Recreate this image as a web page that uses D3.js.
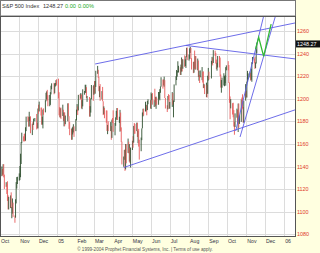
<!DOCTYPE html>
<html><head><meta charset="utf-8">
<script src="https://cdn.jsdelivr.net/npm/d3@7"></script>
<style>body{margin:0;background:#ffffe0;}svg{display:block;font-family:"Liberation Sans",Arial,sans-serif;}</style>
</head><body><svg id="c" width="320" height="253"></svg>
<script>
// ---------- DATA ----------
const title = "S&P 500 Index";
const lastValue = "1248.27";
const change = "0.00";
const changePct = "0.00%";
const priceTicks = [1260,1240,1220,1200,1180,1160,1140,1120,1100,1080];
const monthTicks = ["2004-10-01","2004-11-01","2004-12-01","2005-01-01","2005-02-01","2005-03-01","2005-04-01","2005-05-01","2005-06-01","2005-07-01","2005-08-01","2005-09-01","2005-10-01","2005-11-01","2005-12-01","2006-01-01"];
const monthLabels = ["Oct","Nov","Dec","05","Feb","Mar","Apr","May","Jun","Jul","Aug","Sep","Oct","Nov","Dec","06"];
const prevClose0 = 1114.58;
const dates = [
"2004-10-01","2004-10-04","2004-10-05","2004-10-06","2004-10-07","2004-10-08","2004-10-11","2004-10-12","2004-10-13","2004-10-14","2004-10-15","2004-10-18","2004-10-19","2004-10-20","2004-10-21","2004-10-22","2004-10-25","2004-10-26","2004-10-27","2004-10-28","2004-10-29",
"2004-11-01","2004-11-02","2004-11-03","2004-11-04","2004-11-05","2004-11-08","2004-11-09","2004-11-10","2004-11-11","2004-11-12","2004-11-15","2004-11-16","2004-11-17","2004-11-18","2004-11-19","2004-11-22","2004-11-23","2004-11-24","2004-11-26","2004-11-29","2004-11-30",
"2004-12-01","2004-12-02","2004-12-03","2004-12-06","2004-12-07","2004-12-08","2004-12-09","2004-12-10","2004-12-13","2004-12-14","2004-12-15","2004-12-16","2004-12-17","2004-12-20","2004-12-21","2004-12-22","2004-12-23","2004-12-27","2004-12-28","2004-12-29","2004-12-30","2004-12-31",
"2005-01-03","2005-01-04","2005-01-05","2005-01-06","2005-01-07","2005-01-10","2005-01-11","2005-01-12","2005-01-13","2005-01-14","2005-01-18","2005-01-19","2005-01-20","2005-01-21","2005-01-24","2005-01-25","2005-01-26","2005-01-27","2005-01-28","2005-01-31",
"2005-02-01","2005-02-02","2005-02-03","2005-02-04","2005-02-07","2005-02-08","2005-02-09","2005-02-10","2005-02-11","2005-02-14","2005-02-15","2005-02-16","2005-02-17","2005-02-18","2005-02-22","2005-02-23","2005-02-24","2005-02-25","2005-02-28",
"2005-03-01","2005-03-02","2005-03-03","2005-03-04","2005-03-07","2005-03-08","2005-03-09","2005-03-10","2005-03-11","2005-03-14","2005-03-15","2005-03-16","2005-03-17","2005-03-18","2005-03-21","2005-03-22","2005-03-23","2005-03-24","2005-03-28","2005-03-29","2005-03-30","2005-03-31",
"2005-04-01","2005-04-04","2005-04-05","2005-04-06","2005-04-07","2005-04-08","2005-04-11","2005-04-12","2005-04-13","2005-04-14","2005-04-15","2005-04-18","2005-04-19","2005-04-20","2005-04-21","2005-04-22","2005-04-25","2005-04-26","2005-04-27","2005-04-28","2005-04-29",
"2005-05-02","2005-05-03","2005-05-04","2005-05-05","2005-05-06","2005-05-09","2005-05-10","2005-05-11","2005-05-12","2005-05-13","2005-05-16","2005-05-17","2005-05-18","2005-05-19","2005-05-20","2005-05-23","2005-05-24","2005-05-25","2005-05-26","2005-05-27","2005-05-31",
"2005-06-01","2005-06-02","2005-06-03","2005-06-06","2005-06-07","2005-06-08","2005-06-09","2005-06-10","2005-06-13","2005-06-14","2005-06-15","2005-06-16","2005-06-17","2005-06-20","2005-06-21","2005-06-22","2005-06-23","2005-06-24","2005-06-27","2005-06-28","2005-06-29","2005-06-30",
"2005-07-01","2005-07-05","2005-07-06","2005-07-07","2005-07-08","2005-07-11","2005-07-12","2005-07-13","2005-07-14","2005-07-15","2005-07-18","2005-07-19","2005-07-20","2005-07-21","2005-07-22","2005-07-25","2005-07-26","2005-07-27","2005-07-28","2005-07-29",
"2005-08-01","2005-08-02","2005-08-03","2005-08-04","2005-08-05","2005-08-08","2005-08-09","2005-08-10","2005-08-11","2005-08-12","2005-08-15","2005-08-16","2005-08-17","2005-08-18","2005-08-19","2005-08-22","2005-08-23","2005-08-24","2005-08-25","2005-08-26","2005-08-29","2005-08-30","2005-08-31",
"2005-09-01","2005-09-02","2005-09-06","2005-09-07","2005-09-08","2005-09-09","2005-09-12","2005-09-13","2005-09-14","2005-09-15","2005-09-16","2005-09-19","2005-09-20","2005-09-21","2005-09-22","2005-09-23","2005-09-26","2005-09-27","2005-09-28","2005-09-29","2005-09-30",
"2005-10-03","2005-10-04","2005-10-05","2005-10-06","2005-10-07","2005-10-10","2005-10-11","2005-10-12","2005-10-13","2005-10-14","2005-10-17","2005-10-18","2005-10-19","2005-10-20","2005-10-21","2005-10-24","2005-10-25","2005-10-26","2005-10-27","2005-10-28","2005-10-31",
"2005-11-01","2005-11-02","2005-11-03","2005-11-04","2005-11-07","2005-11-08","2005-11-09","2005-11-10","2005-11-11","2005-11-14","2005-11-15","2005-11-16","2005-11-17","2005-11-18"];
const closes = [
1131.5,1135.2,1134.5,1142.1,1130.7,1122.1,1124.4,1121.8,1113.7,1103.3,1108.2,1114.0,1103.2,1103.7,1106.5,1095.7,1094.8,1111.1,1125.4,1127.4,1130.2,
1130.5,1130.6,1143.2,1161.7,1166.2,1164.9,1164.1,1162.9,1173.5,1184.2,1183.8,1175.4,1181.9,1183.6,1170.3,1177.2,1176.9,1181.8,1182.7,1178.6,1173.8,
1191.4,1190.3,1191.2,1190.3,1177.1,1182.8,1189.2,1188.0,1198.7,1203.4,1205.7,1203.2,1194.2,1194.7,1205.5,1209.6,1210.1,1204.9,1213.5,1213.5,1213.6,1211.9,
1202.1,1188.1,1183.7,1187.9,1186.2,1190.3,1183.0,1187.7,1177.5,1184.5,1196.0,1184.6,1175.4,1167.9,1163.8,1168.4,1174.1,1174.6,1171.4,1181.3,
1189.4,1193.2,1189.9,1203.0,1201.7,1202.3,1192.0,1197.0,1205.3,1206.1,1210.1,1210.3,1200.8,1201.6,1184.2,1190.8,1200.2,1211.4,1203.6,
1210.4,1210.1,1210.5,1222.1,1225.3,1219.4,1207.0,1209.3,1200.1,1206.8,1197.8,1188.1,1190.2,1189.7,1183.8,1171.7,1172.5,1171.4,1174.3,1165.4,1181.4,1180.6,
1172.9,1176.1,1181.4,1184.1,1191.1,1181.2,1181.2,1187.8,1173.8,1162.1,1142.6,1146.0,1152.8,1137.5,1160.0,1152.1,1162.1,1151.8,1156.4,1143.2,1156.9,
1162.2,1161.2,1175.7,1172.6,1171.4,1178.8,1166.2,1171.1,1159.4,1154.1,1165.7,1173.8,1185.6,1191.1,1189.3,1193.9,1194.1,1190.0,1197.6,1198.8,1191.5,
1202.2,1204.3,1196.0,1197.5,1197.3,1194.7,1200.9,1198.1,1200.8,1203.9,1206.6,1211.0,1217.0,1216.1,1213.6,1213.9,1200.7,1191.6,1190.7,1201.6,1199.9,1191.3,
1194.4,1205.0,1194.9,1197.9,1211.9,1219.4,1222.2,1223.3,1226.5,1227.9,1221.1,1229.4,1235.2,1227.0,1233.7,1229.0,1231.2,1236.8,1243.7,1234.2,
1235.4,1244.1,1245.0,1235.9,1226.4,1223.1,1231.4,1229.1,1237.8,1230.4,1233.9,1219.3,1220.2,1219.0,1219.7,1221.7,1217.6,1209.6,1212.4,1205.1,1212.3,1208.4,1220.3,
1221.6,1218.0,1233.4,1236.4,1231.7,1241.5,1240.6,1231.2,1227.2,1227.7,1237.9,1231.0,1221.3,1210.2,1214.6,1215.3,1215.6,1215.7,1216.9,1227.7,1228.8,
1226.7,1214.5,1196.4,1191.5,1195.9,1187.3,1184.9,1177.7,1176.8,1186.6,1190.1,1178.1,1195.8,1177.8,1179.6,1199.4,1196.5,1191.4,1178.9,1198.4,1207.0,
1202.8,1214.8,1219.9,1220.1,1222.8,1218.6,1220.7,1231.0,1234.7,1233.8,1229.0,1231.2,1242.8,1248.3];
const highs = [
1131.6,1140.1,1137.9,1142.1,1142.1,1132.9,1126.2,1124.4,1127.0,1114.6,1113.2,1114.5,1117.2,1104.1,1111.8,1108.1,1096.8,1111.1,1126.3,1130.7,1131.0,
1134.0,1140.5,1151.4,1161.7,1170.0,1166.8,1168.9,1169.3,1174.8,1184.2,1184.5,1183.8,1188.5,1184.0,1184.5,1178.0,1179.5,1182.5,1183.0,1186.6,1178.7,
1191.4,1194.8,1197.5,1192.2,1192.2,1184.1,1190.5,1191.5,1198.7,1205.3,1206.6,1207.9,1203.2,1203.4,1205.9,1211.6,1213.7,1214.1,1213.6,1213.9,1216.5,1217.3,
1217.8,1205.8,1192.7,1191.6,1192.2,1194.8,1190.3,1187.9,1187.9,1185.2,1196.0,1196.0,1184.6,1179.5,1173.4,1174.3,1175.3,1177.5,1175.6,1182.0,
1190.4,1195.3,1193.2,1203.5,1204.2,1205.1,1203.8,1198.8,1208.4,1206.9,1212.4,1212.4,1210.3,1202.5,1201.6,1193.5,1200.4,1212.2,1211.4,
1212.3,1215.7,1215.7,1224.8,1229.1,1225.7,1219.4,1211.2,1213.0,1206.8,1210.5,1197.8,1193.3,1191.9,1189.7,1189.6,1176.9,1180.1,1179.4,1175.8,1181.6,1183.0,
1189.8,1178.6,1183.6,1189.3,1191.8,1191.8,1184.1,1190.2,1187.8,1174.7,1162.1,1148.9,1154.7,1155.3,1160.0,1159.9,1164.8,1162.1,1159.9,1156.4,1156.9,
1162.9,1166.9,1176.0,1178.6,1177.7,1178.9,1178.8,1171.8,1173.4,1163.8,1165.7,1173.8,1187.9,1191.2,1191.2,1197.4,1194.7,1194.1,1198.1,1199.6,1198.8,
1205.6,1204.3,1205.1,1198.8,1208.9,1201.6,1201.9,1200.9,1206.0,1206.0,1208.5,1211.0,1219.1,1217.0,1217.1,1219.6,1216.5,1200.7,1194.3,1202.5,1204.1,1203.3,
1197.2,1205.9,1205.0,1198.5,1212.7,1220.0,1225.5,1224.5,1233.2,1229.2,1227.9,1230.3,1236.6,1235.2,1234.9,1238.4,1234.9,1237.6,1245.1,1245.4,
1239.1,1244.7,1245.9,1245.0,1235.9,1232.7,1232.8,1242.7,1237.8,1237.8,1235.6,1233.9,1224.9,1221.0,1225.1,1228.1,1223.8,1224.3,1213.2,1212.4,1214.3,1212.3,1220.4,
1227.3,1224.0,1233.6,1237.1,1236.4,1243.1,1242.6,1240.6,1234.7,1231.9,1237.9,1237.9,1236.5,1221.5,1216.6,1218.8,1222.6,1220.0,1220.9,1228.0,1229.6,
1233.3,1229.9,1214.5,1202.1,1199.7,1196.1,1196.5,1190.0,1179.4,1187.1,1191.3,1190.1,1195.8,1195.8,1185.3,1199.4,1201.1,1204.0,1192.7,1198.4,1213.0,
1207.0,1215.2,1224.7,1222.5,1224.2,1222.8,1226.6,1232.4,1237.0,1235.7,1237.2,1232.2,1243.8,1249.6];
const lows = [
1114.6,1131.5,1132.0,1132.9,1130.5,1120.2,1122.1,1115.8,1109.6,1102.1,1102.1,1103.3,1103.2,1094.3,1098.4,1095.5,1090.3,1094.8,1107.4,1120.6,1124.6,
1127.6,1128.1,1130.6,1142.3,1160.7,1162.3,1162.5,1162.3,1162.9,1171.4,1179.9,1175.4,1175.4,1180.4,1169.5,1167.9,1172.4,1176.9,1180.1,1172.9,1173.8,
1173.8,1186.7,1188.8,1185.2,1177.1,1177.1,1173.8,1185.8,1188.0,1197.8,1199.4,1198.4,1193.4,1193.4,1194.6,1203.9,1208.4,1204.0,1204.9,1210.9,1212.8,1211.7,
1200.3,1185.4,1183.7,1183.3,1182.2,1184.8,1180.4,1175.6,1175.8,1177.5,1180.1,1184.4,1173.4,1167.8,1163.7,1163.8,1168.4,1170.2,1166.3,1171.4,
1180.9,1188.9,1185.6,1189.7,1199.3,1200.2,1191.5,1190.8,1193.3,1203.6,1205.5,1205.1,1200.7,1197.3,1184.2,1184.2,1187.8,1199.6,1198.2,
1203.6,1204.5,1204.5,1210.5,1222.1,1218.6,1206.7,1201.4,1198.2,1199.5,1197.8,1185.6,1186.3,1182.8,1178.8,1171.6,1168.7,1171.4,1171.4,1163.7,1165.4,1178.7,
1170.8,1167.7,1176.1,1181.4,1183.7,1181.2,1178.7,1170.9,1171.6,1161.7,1141.9,1139.8,1146.0,1136.2,1137.5,1142.9,1152.1,1151.8,1144.4,1143.2,1139.2,
1154.7,1156.7,1161.2,1169.1,1169.1,1171.4,1166.2,1160.7,1157.7,1146.2,1153.6,1163.4,1173.8,1184.5,1185.2,1188.8,1188.9,1185.4,1190.0,1195.2,1191.5,
1191.0,1198.8,1194.8,1192.8,1197.3,1193.2,1191.1,1194.7,1194.7,1200.0,1198.7,1205.3,1210.7,1209.0,1211.9,1210.7,1200.7,1191.4,1188.3,1190.7,1198.7,1191.1,
1191.3,1192.8,1194.8,1183.6,1197.2,1211.9,1216.6,1219.6,1223.3,1223.3,1221.1,1221.1,1224.1,1224.2,1226.6,1228.2,1229.0,1227.3,1236.8,1234.2,
1233.8,1235.4,1240.6,1235.2,1225.9,1222.7,1223.1,1226.6,1225.9,1225.9,1225.2,1219.3,1216.0,1214.0,1219.0,1216.5,1214.4,1209.4,1209.6,1204.2,1201.5,1201.1,1204.4,
1216.2,1217.0,1218.0,1230.8,1229.5,1231.7,1238.0,1231.2,1226.2,1224.9,1227.7,1227.7,1220.1,1209.9,1205.4,1209.8,1211.8,1211.1,1213.9,1211.6,1225.2,
1225.2,1214.0,1196.4,1181.9,1191.5,1186.1,1183.6,1175.4,1168.2,1175.0,1183.3,1178.1,1170.6,1174.4,1177.8,1179.6,1190.4,1191.4,1178.9,1178.9,1198.4,
1201.3,1201.1,1214.8,1217.2,1218.9,1216.1,1216.8,1215.1,1231.0,1231.5,1226.4,1227.2,1231.2,1240.4];
// hand-drawn trendlines (date, value) and projection
const upperLine = [["2005-03-03",1230.8],["2006-01-20",1267.3]];
const lowerLine = [["2005-04-18",1139.2],["2006-01-20",1190.5]];
const topDownLine = [["2005-07-27",1247.2],["2006-01-20",1235.2]];
const steepLeft = [["2005-10-15",1171.5],["2005-11-29",1273.3]];
const steepRight = [["2005-10-22",1166.2],["2005-12-18",1273.3]];
const projection = [["2005-11-16",1244],["2005-11-21",1254.5],["2005-11-29",1237.5],["2005-12-11",1266]];

// ---------- CHART ----------
const parse = d3.timeParse("%Y-%m-%d");
const svg = d3.select("#c");
const L = 0.5, R = 295.5, T = 16.5, B = 236.5;
const x = d3.scaleTime().domain([parse("2004-10-01"), parse("2006-01-20")]).range([0, 296]);
const y = d3.scaleLinear().domain([1080, 1260]).range([234.4, 31]);

svg.append("rect").attr("width",320).attr("height",253).attr("fill","#ffffe0");
// header box
svg.append("rect").attr("x",L).attr("y",0.5).attr("width",R-L).attr("height",15.5).attr("fill","#fff").attr("stroke","#777");
const hdr = svg.append("text").attr("y",7.6).attr("font-size",5.6).attr("fill","#333");
hdr.append("tspan").attr("x",2).text(title);
hdr.append("tspan").attr("x",43).text(lastValue);
hdr.append("tspan").attr("x",65).attr("fill","#2a2").text(change);
hdr.append("tspan").attr("x",78).attr("fill","#2a2").text(changePct);

// plot box
svg.append("rect").attr("x",L).attr("y",T).attr("width",R-L).attr("height",B-T).attr("fill","#fff");
svg.append("clipPath").attr("id","clip").append("rect").attr("x",L).attr("y",T).attr("width",R-L).attr("height",B-T);
const g = svg.append("g").attr("clip-path","url(#clip)");

// grid
g.selectAll(".hg").data(priceTicks).join("line")
  .attr("x1",L).attr("x2",R).attr("y1",d=>Math.round(y(d))+0.5).attr("y2",d=>Math.round(y(d))+0.5)
  .attr("stroke","#dcdcdc").attr("stroke-width",1);
g.selectAll(".vg").data(monthTicks.slice(1)).join("line")
  .attr("x1",d=>Math.round(x(parse(d)))+0.5).attr("x2",d=>Math.round(x(parse(d)))+0.5).attr("y1",T).attr("y2",B)
  .attr("stroke","#dcdcdc").attr("stroke-width",1);

// bars
const bars = dates.map((d,i)=>({d:parse(d),c:closes[i],h:highs[i],l:lows[i],p:i?closes[i-1]:prevClose0}));
g.selectAll(".bar").data(bars).join("line")
  .attr("x1",d=>x(d.d)).attr("x2",d=>x(d.d))
  .attr("y1",d=>y(d.h)).attr("y2",d=>y(d.l))
  .attr("stroke",d=>d.c>=d.p?"#2f4f2f":"#e85a5a").attr("stroke-width",0.9);

// trend lines
const line = d3.line().x(d=>x(parse(d[0]))).y(d=>y(d[1]));
[upperLine,lowerLine,topDownLine,steepLeft,steepRight].forEach(pts=>{
  g.append("path").attr("d",line(pts)).attr("fill","none").attr("stroke","#5c5ce6").attr("stroke-width",0.9);
});
g.append("path").attr("d",line(projection)).attr("fill","none").attr("stroke","#33bb33").attr("stroke-width",1.3);

// frame
svg.append("rect").attr("x",L).attr("y",T).attr("width",R-L).attr("height",B-T).attr("fill","none").attr("stroke","#555");

// right axis labels
svg.selectAll(".yl").data(priceTicks).join("text")
  .attr("x",297).attr("y",d=>y(d)+2).attr("font-size",5.4).attr("fill","#e03a2a").text(d=>d);
// last value tag
const yl = y(+lastValue);
svg.append("rect").attr("x",296).attr("y",yl-3.8).attr("width",24).attr("height",7).attr("fill","#111");
svg.append("text").attr("x",297).attr("y",yl+2).attr("font-size",5.4).attr("fill","#fff").text(lastValue);

// month labels
svg.selectAll(".ml").data(monthTicks).join("text")
  .attr("x",(d,i)=>x(parse(d))+1).attr("y",243).attr("font-size",5.2).attr("fill","#334")
  .text((d,i)=>monthLabels[i]);
svg.append("text").attr("x",145).attr("y",250.5).attr("text-anchor","middle").attr("font-size",4.6).attr("fill","#555")
  .text("© 1999-2004 Prophet Financial Systems, Inc. | Terms of use apply.");
</script></body></html>
